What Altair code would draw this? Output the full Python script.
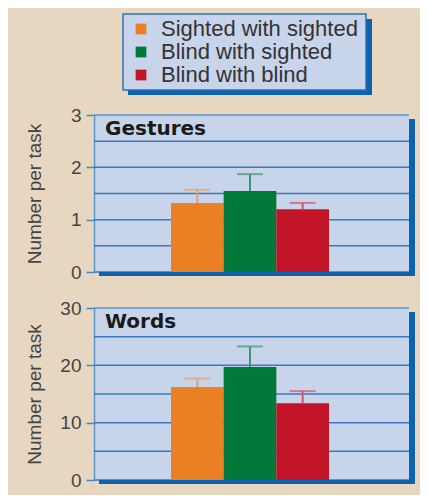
import altair as alt
import pandas as pd

groups = ["Sighted with sighted", "Blind with sighted", "Blind with blind"]
bar_colors = ["#ec8024", "#00793a", "#c31528"]
err_colors = ["#eb9f68", "#3f9673", "#d2566a"]

gesture_mean = [1.32, 1.55, 1.20]
gesture_upper = [1.57, 1.87, 1.32]
words_mean = [16.2, 19.7, 13.4]
words_upper = [17.7, 23.3, 15.5]

gesture_ticks = [0, 0.5, 1, 1.5, 2, 2.5, 3]
words_ticks = [0, 5, 10, 15, 20, 25, 30]

PW = 315
BEIGE = "#e8d7c0"
PANEL = "#c7d4ea"
SHADOW = "#0b62ad"
GRID = "#3a79bd"
GRID_TOP = "#5b96cd"

fill_scale = alt.Scale(domain=groups, range=bar_colors)
err_scale = alt.Scale(domain=groups, range=err_colors)
one = pd.DataFrame({"k": [0]})


def panel(title, means, uppers, ymax, ticks, major, height):
    df = pd.DataFrame({"group": groups, "mean": means, "upper": uppers})
    x = alt.X("group:N", sort=groups, axis=None,
              scale=alt.Scale(paddingInner=0, paddingOuter=0, range=[77, 235]))
    yaxis = alt.Axis(
        values=ticks,
        labelExpr=f"datum.value % {major} === 0 ? datum.label : ''",
        grid=False,
        tickColor="#4a88c5", tickWidth=1.5,
        tickSize={"condition": {"test": f"datum.value % {major} === 0", "value": 8}, "value": 3},
        domainColor=GRID_TOP, domainWidth=1.5,
        labelFont="Liberation Sans", labelFontSize=19, labelColor="#444444", labelPadding=5,
        title="Number per task", titleFont="Liberation Sans", titleFontSize=19,
        titleFontWeight="normal", titleColor="#444444",
        titleX=-60, titleY=height / 2, titleBaseline="middle", titleAngle=270,
    )
    yscale = alt.Scale(domain=[0, ymax], nice=False)
    y = alt.Y("mean:Q", scale=yscale, axis=yaxis)
    grid = alt.Chart(pd.DataFrame({"v": ticks})).mark_rule(strokeWidth=1.5).encode(
        y=alt.Y("v:Q", scale=yscale, axis=yaxis),
        x=alt.value(0), x2=alt.value(PW),
        color=alt.condition(f"datum.v === {ymax}", alt.value(GRID_TOP), alt.value(GRID)))
    base = alt.Chart(df)
    bars = base.mark_bar().encode(x=x, y=y, fill=alt.Fill("group:N", scale=fill_scale, legend=None))
    stem = base.mark_rule(strokeWidth=2).encode(
        x=x, y="mean:Q", y2="upper:Q", color=alt.Color("group:N", scale=err_scale, legend=None))
    cap = base.mark_tick(thickness=2, size=26).encode(
        x=x, y="upper:Q", color=alt.Color("group:N", scale=err_scale, legend=None))
    sh_right = alt.Chart(one).mark_rect(color=SHADOW).encode(
        x=alt.value(PW), x2=alt.value(PW + 6), y=alt.value(4), y2=alt.value(height + 4))
    sh_bottom = alt.Chart(one).mark_rect(color=SHADOW).encode(
        x=alt.value(5), x2=alt.value(PW + 6), y=alt.value(height), y2=alt.value(height + 4))
    label = alt.Chart(pd.DataFrame({"t": [title]})).mark_text(
        align="left", baseline="middle", font="DejaVu Sans", fontWeight="bold",
        fontSize=20, color="#1a1a1a").encode(
        text="t:N", x=alt.value(11), y=alt.value(14))
    return alt.layer(grid, sh_right, sh_bottom, bars, stem, cap, label).properties(
        width=PW, height=height,
        view=alt.ViewBackground(fill=PANEL, stroke=None))


# legend panel
leg_df = pd.DataFrame({"group": groups})
ly = alt.Y("group:N", sort=groups, axis=None,
           scale=alt.Scale(type="point", domain=groups, range=[15, 61], padding=0))
leg_shadow = alt.Chart(one).mark_rect(color=SHADOW).encode(
    x=alt.value(34), x2=alt.value(278), y=alt.value(5), y2=alt.value(81))
leg_box = alt.Chart(one).mark_rect(fill=PANEL, stroke="#2f73ba", strokeWidth=1.5).encode(
    x=alt.value(29), x2=alt.value(272), y=alt.value(0), y2=alt.value(76))
leg_sq = alt.Chart(leg_df).mark_square(size=115, opacity=1).encode(
    x=alt.value(47), y=ly, fill=alt.Fill("group:N", scale=fill_scale, legend=None))
leg_txt = alt.Chart(leg_df).mark_text(
    align="left", baseline="middle", font="Liberation Sans", fontSize=22,
    color="#333333").encode(x=alt.value(67), y=ly, text="group:N")
legend = alt.layer(leg_shadow, leg_box, leg_sq, leg_txt).properties(
    width=PW, height=65, view=alt.ViewBackground(stroke=None))

p1 = panel("Gestures", gesture_mean, gesture_upper, 3, gesture_ticks, 1, 157)
p2 = panel("Words", words_mean, words_upper, 30, words_ticks, 10, 172)

chart = alt.vconcat(legend, p1, p2, spacing=36, bounds="flush").properties(
    background=BEIGE,
    padding={"left": 17, "top": 5, "right": 5, "bottom": 5},
).configure_view(stroke=None)

chart.save("out.html", embed_options={"renderer": "svg", "actions": False})
